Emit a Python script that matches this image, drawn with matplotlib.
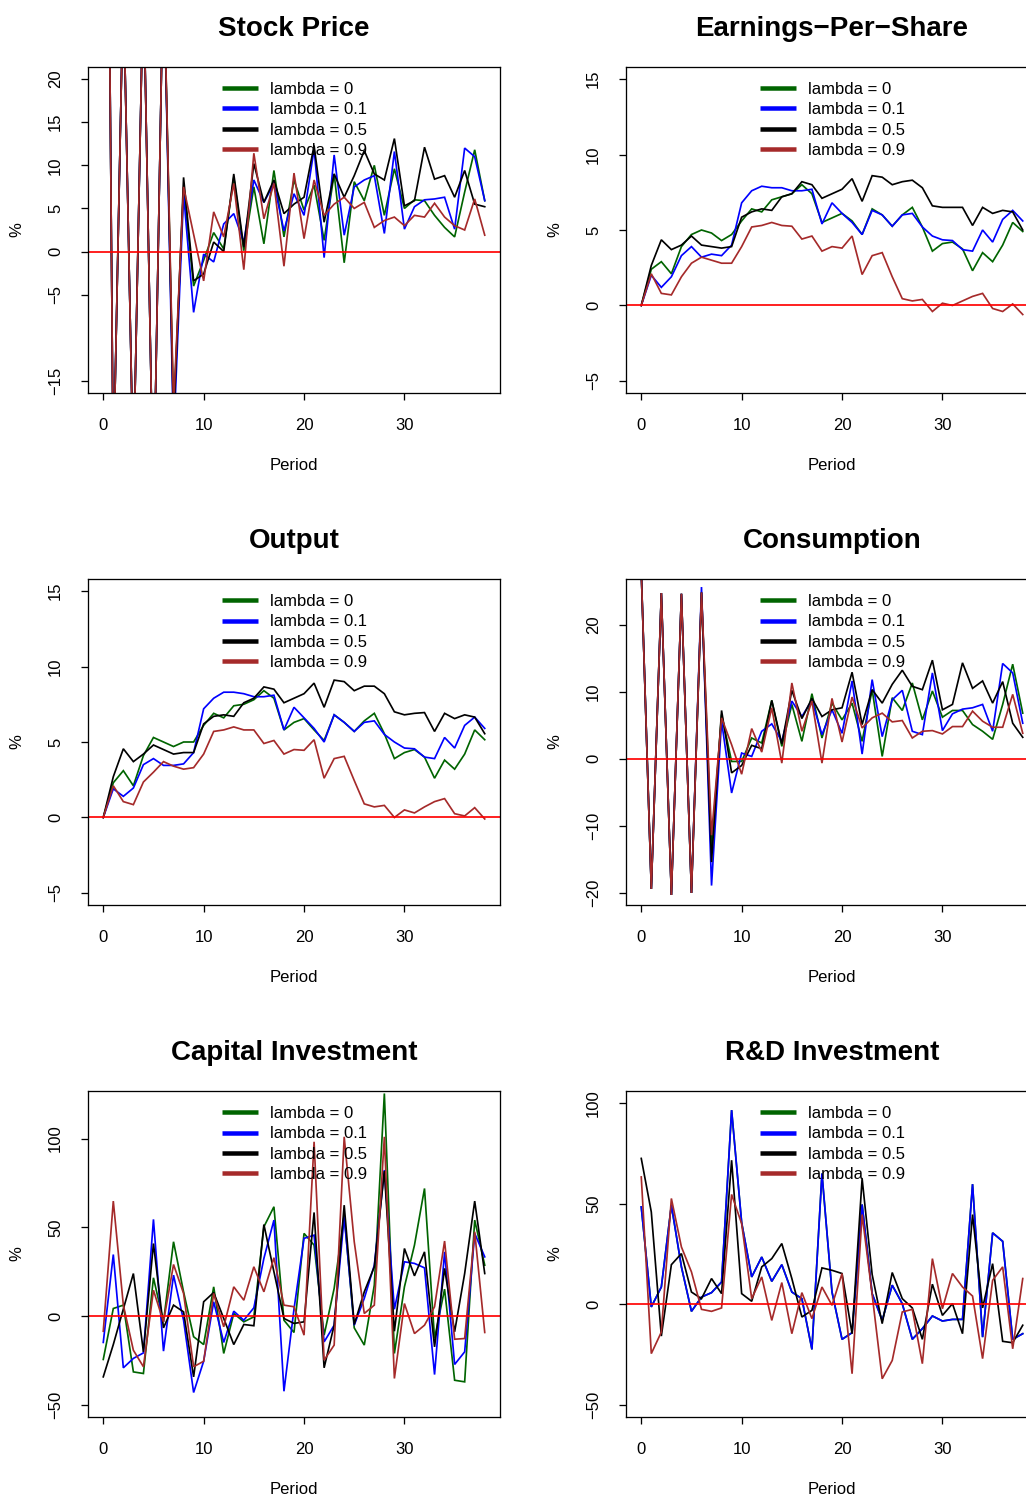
import matplotlib
matplotlib.use('Agg')
import matplotlib.pyplot as plt

plt.rcParams['font.family'] = ['Liberation Sans', 'DejaVu Sans']

periods = list(range(39))
lambda_labels = ['lambda = 0', 'lambda = 0.1', 'lambda = 0.5', 'lambda = 0.9']
colors = ['#006400', '#0000FF', '#000000', '#A52A2A']

# ---------------- Stock Price ----------------
sp_l0 = [116, -26, 31, -26, 32, -30, 34, -19, 7.5, -4.0, -1.0, 2.2, 0.3, 8.6, 0.1, 7.5, 0.9, 9.4, 1.7, 8.3,
         4.8, 7.7, 1.3, 9.0, -1.3, 8.1, 5.9, 10.0, 4.2, 9.6, 5.0, 6.0, 5.9, 4.2, 2.8, 1.7, 6.9, 11.8, 5.9]
sp_l1 = [116, -26, 31, -26, 32, -30, 34, -22, 6.7, -7.05, -0.3, -1.2, 3.2, 4.4, 1.1, 8.3, 5.7, 7.9, 2.4, 6.7,
         4.2, 11.9, -0.7, 11.2, 1.9, 7.5, 8.3, 8.8, 2.1, 11.6, 2.6, 5.2, 6.0, 6.1, 6.3, 2.6, 12.0, 11.0, 5.9]
sp_l5 = [116, -26, 31, -26, 32, -30, 34, -20, 8.6, -3.4, -2.6, 1.1, 0.0, 9.0, 0.5, 10.2, 5.7, 8.3, 4.4, 5.5,
         6.3, 12.3, 3.4, 9.0, 6.3, 8.8, 11.7, 9.0, 8.3, 13.1, 5.3, 5.9, 12.1, 8.4, 8.8, 6.3, 9.4, 5.5, 5.2]
sp_l9 = [116, -26, 31, -26, 32, -30, 34, -18, 7.5, 2.0, -3.4, 4.6, 1.7, 7.9, -2.1, 11.4, 3.8, 7.9, -1.7, 9.1,
         1.5, 8.3, 4.2, 5.5, 6.3, 5.0, 5.7, 2.8, 3.6, 4.0, 3.0, 4.2, 4.0, 5.6, 4.0, 3.0, 2.5, 6.1, 1.9]

# ---------------- Earnings-Per-Share ----------------
eps_l0 = [0, 2.4, 2.9, 2.1, 3.9, 4.7, 5.0, 4.8, 4.3, 4.7, 5.6, 6.4, 6.2, 7.0, 7.2, 7.4, 8.0, 7.4, 5.5, 5.8,
          6.1, 5.6, 4.7, 6.4, 6.0, 5.25, 6.0, 6.5, 5.2, 3.6, 4.1, 4.2, 3.75, 2.3, 3.5, 2.9, 4.0, 5.5, 4.9]
eps_l1 = [0, 2.0, 1.2, 1.9, 3.3, 3.9, 3.2, 3.4, 3.3, 4.0, 6.8, 7.6, 7.9, 7.8, 7.8, 7.6, 7.6, 7.7, 5.4, 6.8,
          6.1, 5.5, 4.7, 6.3, 6.0, 5.25, 6.0, 6.1, 5.2, 4.6, 4.35, 4.3, 3.7, 3.6, 5.0, 4.2, 5.7, 6.3, 5.6]
eps_l5 = [0, 2.65, 4.35, 3.7, 4.0, 4.6, 4.0, 3.9, 3.8, 3.9, 5.85, 6.2, 6.4, 6.3, 7.2, 7.4, 8.2, 8.0, 7.1, 7.4,
          7.7, 8.4, 6.9, 8.6, 8.5, 8.0, 8.2, 8.3, 7.8, 6.6, 6.5, 6.5, 6.5, 5.3, 6.5, 6.1, 6.3, 6.2, 5.0]
eps_l9 = [0, 2.1, 0.8, 0.7, 1.9, 2.8, 3.2, 3.0, 2.8, 2.8, 3.9, 5.2, 5.3, 5.5, 5.3, 5.25, 4.4, 4.6, 3.6, 3.9,
          3.8, 4.6, 2.05, 3.3, 3.5, 1.9, 0.45, 0.3, 0.4, -0.4, 0.15, 0.0, 0.3, 0.6, 0.8, -0.2, -0.4, 0.1, -0.6]

# ---------------- Output ----------------
out_l0 = [0, 2.3, 3.1, 2.1, 4.1, 5.3, 5.0, 4.7, 5.0, 5.0, 6.1, 6.9, 6.6, 7.4, 7.5, 7.8, 8.4, 7.9, 5.8, 6.3,
          6.55, 5.8, 5.1, 6.8, 6.3, 5.7, 6.4, 6.9, 5.55, 3.9, 4.3, 4.5, 4.0, 2.6, 3.8, 3.2, 4.2, 5.8, 5.15]
out_l1 = [0, 1.9, 1.4, 1.95, 3.5, 3.9, 3.45, 3.45, 3.55, 4.3, 7.2, 7.9, 8.3, 8.3, 8.2, 8.0, 8.0, 8.1, 5.8, 7.3,
          6.6, 5.9, 5.0, 6.8, 6.3, 5.7, 6.3, 6.4, 5.5, 5.0, 4.6, 4.55, 4.0, 3.9, 5.3, 4.6, 6.1, 6.65, 5.9]
out_l5 = [0, 2.7, 4.55, 3.7, 4.2, 4.8, 4.5, 4.2, 4.3, 4.3, 6.2, 6.7, 6.8, 6.7, 7.6, 7.9, 8.65, 8.5, 7.6, 7.9,
          8.2, 8.9, 7.3, 9.1, 9.0, 8.4, 8.7, 8.7, 8.2, 7.0, 6.8, 6.9, 6.95, 5.7, 6.9, 6.55, 6.8, 6.65, 5.55]
out_l9 = [0, 2.1, 1.05, 0.85, 2.35, 3.0, 3.7, 3.4, 3.2, 3.3, 4.2, 5.7, 5.8, 6.0, 5.8, 5.8, 4.9, 5.1, 4.2, 4.5,
          4.45, 5.15, 2.6, 3.9, 4.05, 2.45, 0.9, 0.7, 0.8, 0.0, 0.5, 0.3, 0.7, 1.05, 1.25, 0.25, 0.1, 0.65, -0.1]

# ---------------- Consumption ----------------
con_l0 = [28, -19.4, 24.7, -20.3, 24.6, -20.0, 24.8, -13.4, 6.6, -0.4, -0.4, 3.1, 2.35, 8.7, 1.85, 8.1, 2.6, 9.7, 3.1, 8.3,
          5.8, 8.3, 2.6, 10.3, 0.35, 9.1, 7.2, 11.3, 5.8, 10.1, 6.2, 7.2, 7.2, 5.1, 4.1, 2.9, 8.1, 14.1, 6.8]
con_l1 = [28, -19.4, 24.7, -20.3, 24.6, -20.0, 25.6, -18.9, 5.6, -5.1, 0.85, 0.35, 4.1, 5.2, 2.6, 8.6, 6.3, 8.7, 3.6, 7.3,
          3.8, 11.6, 0.7, 11.8, 3.3, 8.8, 10.2, 4.1, 3.6, 12.8, 4.2, 6.7, 7.4, 7.6, 8.1, 4.1, 14.2, 12.8, 5.3]
con_l5 = [28, -19.4, 24.7, -20.3, 24.6, -20.0, 24.8, -15.4, 7.2, -2.1, -1.0, 2.0, 1.5, 8.7, 2.2, 10.2, 6.0, 9.0, 6.3, 7.3,
          7.6, 12.9, 5.1, 10.3, 8.3, 11.1, 13.2, 10.8, 10.3, 14.7, 7.3, 8.1, 14.3, 10.5, 11.6, 8.3, 11.5, 5.3, 3.2]
con_l9 = [28, -19.4, 24.7, -20.3, 24.6, -20.0, 24.8, -11.4, 6.1, 2.1, -2.3, 4.5, 1.0, 7.6, -0.65, 11.3, 4.1, 8.6, -0.65, 9.0,
          2.5, 9.2, 4.6, 6.1, 6.8, 5.5, 5.7, 3.1, 4.1, 4.2, 3.7, 4.8, 4.8, 7.1, 5.6, 4.7, 4.7, 9.6, 3.8]

# ---------------- Capital Investment ----------------
cap_l0 = [-24.4, 4.3, 6.2, -31.4, -32.3, 21.6, -3.2, 41.9, 13.7, -11.6, -16.0, 16.5, -21.0, 1.5, -3.2, -0.4, 50.3, 61.6, -2.3, -9.2,
          46.6, 40.0, -10.7, 15.6, 56.9, -6.6, -16.3, 17.5, 125.4, -21.0, 16.5, 40.0, 71.9, -12.6, 15.2, -36.1, -37.0, 54.1, 28.7]
cap_l1 = [-14.8, 34.7, -29.1, -23.8, -20.7, 54.5, -19.7, 23.1, -2.3, -43.0, -25.4, 8.1, -14.8, 2.8, -2.3, 4.7, 32.5, 54.1, -42.3, 4.0,
          43.8, 45.6, -14.5, -5.1, 56.0, -5.1, 10.0, 28.7, 82.3, 3.9, 30.6, 29.7, 27.2, -32.9, 36.2, -27.2, -20.1, 46.6, 33.4]
cap_l5 = [-34.2, -16.0, 4.0, 24.0, -20.1, 40.9, -6.6, 6.2, 2.4, -34.2, 8.1, 13.3, -1.3, -16.0, -4.7, -5.4, 51.6, 25.0, -1.3, -4.1,
          -3.2, 58.4, -29.1, -5.1, 62.5, -4.7, 13.7, 27.8, 81.7, -8.5, 38.1, 22.7, 36.2, -17.3, 26.9, -8.8, 24.0, 64.8, 24.0]
cap_l9 = [-8.5, 64.8, 6.2, -19.2, -28.5, 14.6, -3.2, 29.1, 12.8, -28.5, -25.4, 12.8, -6.0, 16.5, 9.0, 27.8, 13.7, 32.9, 6.2, 5.3,
          -10.7, 98.2, -24.8, -16.3, 101.0, 41.9, 1.5, 6.2, 101.0, -35.1, 7.1, -9.8, -5.1, 5.3, 42.3, -13.0, -12.6, 47.5, -9.2]

# ---------------- R&D Investment ----------------
rd_l1 = [48.4, -1.3, 8.6, 49.3, 18.6, -3.5, 3.6, 5.8, 11.1, 96.5, 40.6, 13.6, 23.5, 11.4, 19.7, 6.1, 2.8, -22.4, 65.0, 6.1,
         -17.4, -14.1, 49.6, 5.3, -8.0, 9.5, 0.3, -17.4, -12.1, -5.8, -8.3, -7.5, -7.5, 59.7, -16.3, 35.5, 31.3, -17.4, -14.6]
rd_l0 = list(rd_l1)
rd_l5 = [72.5, 45.9, -15.8, 19.7, 25.2, 6.1, 2.8, 12.8, 5.3, 71.6, 5.3, 1.5, 18.6, 22.7, 30.2, 12.8, -6.3, -3.0, 18.1, 16.9,
         15.3, -14.6, 62.5, 14.8, -9.6, 15.8, 2.8, -1.8, -17.4, 10.0, -5.5, 0.3, -14.6, 44.6, -1.8, 20.2, -18.4, -19.1, -10.4]
rd_l9 = [63.3, -24.5, -13.8, 52.6, 28.5, 16.1, -2.5, -3.5, -1.8, 54.6, 40.1, 2.8, 13.6, -8.0, 10.8, -14.6, 5.8, -7.1, 8.6, -0.5,
         15.3, -34.5, 44.6, 4.8, -37.0, -27.9, -3.8, -2.5, -29.5, 22.7, -2.2, 15.3, 8.6, 4.1, -27.0, 11.9, 18.6, -22.1, 12.8]

titles = ['Stock Price', 'Earnings\u2212Per\u2212Share', 'Output', 'Consumption',
          'Capital Investment', 'R&D Investment']
series = [[sp_l0, sp_l1, sp_l5, sp_l9], [eps_l0, eps_l1, eps_l5, eps_l9],
          [out_l0, out_l1, out_l5, out_l9], [con_l0, con_l1, con_l5, con_l9],
          [cap_l0, cap_l1, cap_l5, cap_l9], [rd_l0, rd_l1, rd_l5, rd_l9]]
ylims = [(-15, 20), (-5, 15), (-5, 15), (-20, 25), (-50, 120), (-50, 100)]
yticks = [[-15, -5, 0, 5, 10, 15, 20], [-5, 0, 5, 10, 15], [-5, 0, 5, 10, 15],
          [-20, -10, 0, 10, 20], [-50, 0, 50, 100], [-50, 0, 50, 100]]
xticks = [0, 10, 20, 30]

W, H = 1026, 1496
fig = plt.figure(figsize=(W / 100, H / 100), dpi=100)
fig.patch.set_facecolor('white')

lefts = [88, 626]
tops = [67, 579, 1091]
AW, AH = 412, 326
px2pt = 72 / 100

for i in range(6):
    col, row = i % 2, i // 2
    L, T = lefts[col], tops[row]
    ax = fig.add_axes([L / W, 1 - (T + AH) / H, AW / W, AH / H])
    for k in range(4):
        ax.plot(periods, series[i][k], color=colors[k], lw=1.7 * px2pt,
                label=lambda_labels[k], solid_joinstyle='miter')
    ax.axhline(0, color='#FF0000', lw=1.7 * px2pt)
    lo, hi = ylims[i]
    ext = 0.04 * (hi - lo)
    ax.set_ylim(lo - ext, hi + ext)
    ax.set_xlim(-0.04 * 38, 38 * 1.04)
    ax.set_xticks(xticks)
    ax.set_yticks(yticks[i])
    ax.set_yticklabels([('\u2212' + str(-v)) if v < 0 else str(v) for v in yticks[i]],
                       rotation=90, va='center')
    ax.tick_params(direction='out', length=7 * px2pt, width=1.3 * px2pt,
                   pad=18 * px2pt, labelsize=12, colors='black')
    for s in ax.spines.values():
        s.set_linewidth(1.3 * px2pt)
    leg = ax.legend(loc='upper left', bbox_to_anchor=((222 - 88) / AW, 1 - (82 - 67) / AH),
                    frameon=False, fontsize=12, handlelength=2.16, handletextpad=0.72,
                    labelspacing=0.32, borderpad=0, borderaxespad=0)
    for ln in leg.get_lines():
        ln.set_linewidth(4.5 * px2pt)
        ln.set_solid_capstyle('butt')
    cx = (L + AW / 2) / W
    fig.text(cx, 1 - (T - 38) / H, titles[i], ha='center', va='center', fontsize=20, fontweight='bold')
    fig.text(cx, 1 - (T + 399) / H, 'Period', ha='center', va='center', fontsize=12)
    fig.text((L - 71) / W, 1 - (T + AH / 2) / H, '%', ha='center', va='center', fontsize=12, rotation=90)

fig.savefig('out.png', dpi=100, facecolor='white')
